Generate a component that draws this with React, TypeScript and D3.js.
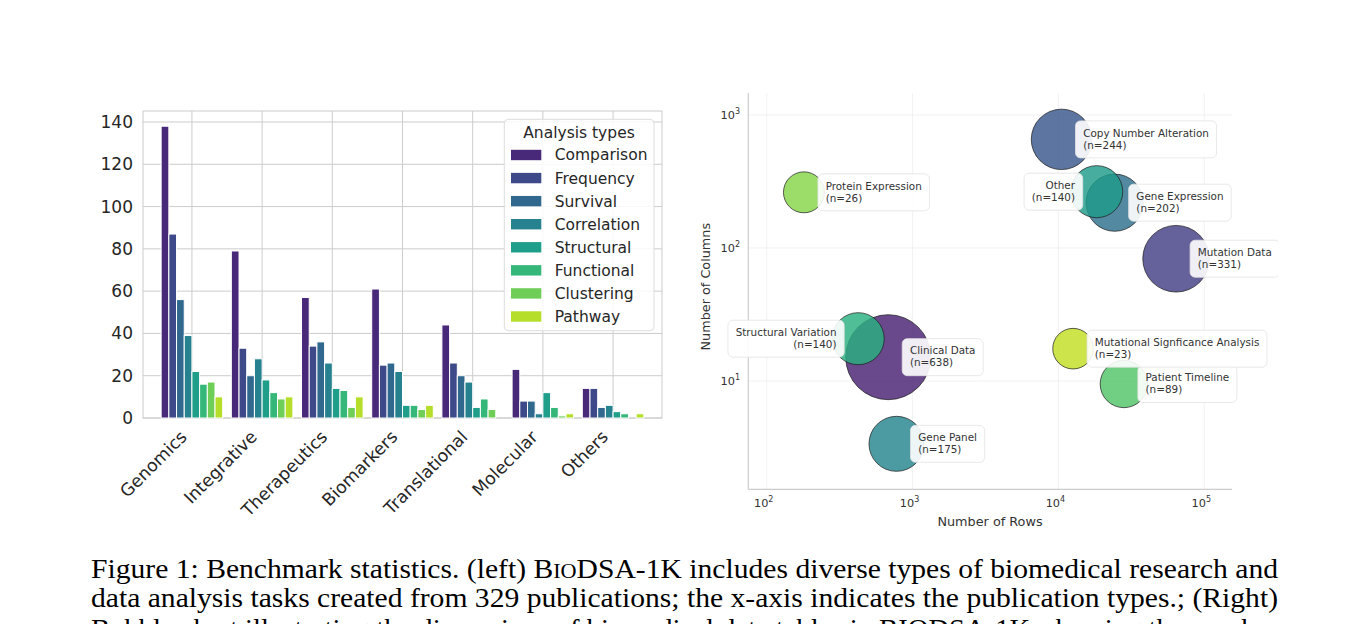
import * as d3 from "d3";

// Left panel: publication types × analysis types
const CATEGORIES = ["Genomics", "Integrative", "Therapeutics", "Biomarkers", "Translational", "Molecular", "Others"];
const ANALYSIS_TYPES = ["Comparison", "Frequency", "Survival", "Correlation", "Structural", "Functional", "Clustering", "Pathway"];
const COMPARISON = [138, 79, 57, 61, 44, 23, 14];
const FREQUENCY = [87, 33, 34, 25, 26, 8, 14];
const SURVIVAL = [56, 20, 36, 26, 20, 8, 5];
const CORRELATION = [39, 28, 26, 22, 17, 2, 6];
const STRUCTURAL = [22, 18, 14, 6, 5, 12, 3];
const FUNCTIONAL = [16, 12, 13, 6, 9, 5, 2];
const CLUSTERING = [17, 9, 5, 4, 4, 1, 0];
const PATHWAY = [10, 10, 10, 6, 0, 2, 2];
const SERIES = [COMPARISON, FREQUENCY, SURVIVAL, CORRELATION, STRUCTURAL, FUNCTIONAL, CLUSTERING, PATHWAY];
const COUNT_TICKS = [0, 20, 40, 60, 80, 100, 120, 140];

// Right panel: data table dimensions
const TABLE_TYPES = [
  "Clinical Data", "Mutation Data", "Copy Number Alteration", "Gene Expression", "Gene Panel",
  "Other", "Structural Variation", "Patient Timeline", "Protein Expression", "Mutational Signficance Analysis",
];
const TABLE_ROWS = [681, 64100, 10500, 24300, 776, 18300, 424, 28100, 180, 12600];
const TABLE_COLS = [15.1, 83, 655, 219, 3.37, 265, 20.8, 9.5, 262, 17.5];
const TABLE_COUNTS = [638, 331, 244, 202, 175, 140, 140, 89, 26, 23];
const ROW_TICKS = [100, 1000, 10000, 100000];
const COL_TICKS = [10, 100, 1000];
const LEFT_LABELS = new Set(["Other", "Structural Variation"]);

const CAPTION_1 = "includes diverse types of biomedical research and";
const CAPTION_2 = "data analysis tasks created from 329 publications; the x-axis indicates the publication types.; (Right)";
const CAPTION_3 = "Bubble chart illustrating the dimensions of biomedical data tables in BIODSA-1K, showing the number";

const FONT = "DejaVu Sans";
const INK = "#262626";

const measureCtx = document.createElement("canvas").getContext("2d");
function textWidth(s: string, size: number) {
  if (!measureCtx) return s.length * size * 0.6;
  measureCtx.font = `${size}px "${FONT}"`;
  return measureCtx.measureText(s).width;
}

function log10(v: number) {
  return Math.round(Math.log10(v));
}

export default function App() {
  const W = 1368;
  const H = 624;

  // ---- bar chart ----
  const L = { left: 143, right: 662, top: 111, bottom: 418 };
  const xCat = d3.scaleBand<string>().domain(CATEGORIES).range([L.left, L.right]).paddingInner(0).paddingOuter(0.197);
  const yCount = d3.scaleLinear().domain([0, 145.2]).range([L.bottom, L.top]);
  const groupW = xCat.step() * 0.877;
  const xType = d3.scaleBand<string>().domain(ANALYSIS_TYPES).range([-groupW / 2, groupW / 2]);
  const barColor = d3.scaleOrdinal<string, string>()
    .domain(ANALYSIS_TYPES)
    .range(ANALYSIS_TYPES.map((_, i) => d3.interpolateViridis((i + 1) / (ANALYSIS_TYPES.length + 1))));
  const catCenter = (c: string) => (xCat(c) ?? 0) + xCat.bandwidth() / 2;

  // ---- bubble chart ----
  const R = { left: 748.3, right: 1232, top: 93, bottom: 489.3 };
  const xRows = d3.scaleLog().domain([74.8, 154900]).range([R.left, R.right]);
  const yCols = d3.scaleLog().domain([1.534, 1462]).range([R.bottom, R.top]);
  const area = d3.scaleLinear().domain([0, 638]).range([360, 1806]);
  const radius = (n: number) => Math.sqrt(area(n));

  const bubbles = TABLE_TYPES.map((name, i) => ({
    name, rows: TABLE_ROWS[i], cols: TABLE_COLS[i], n: TABLE_COUNTS[i],
  }));
  const ranked = bubbles.slice().sort((a, b) => b.n - a.n);
  const bubbleColor = (name: string) =>
    d3.interpolateViridis((ranked.findIndex((b) => b.name === name) + 1) / (ranked.length + 1));

  const LABEL_SIZE = 10.4;

  return (
    <svg width={W} height={H} style={{ position: "absolute", left: 0, top: 0, background: "#fff" }} fontFamily={FONT}>
      <defs>
        <clipPath id="figClip">
          <rect x={0} y={0} width={1278} height={H} />
        </clipPath>
      </defs>

      {/* ---------- left: grouped bars ---------- */}
      <g>
        {COUNT_TICKS.map((t) => (
          <line key={`hg${t}`} x1={L.left} x2={L.right} y1={yCount(t)} y2={yCount(t)} stroke="#cccccc" strokeWidth={1} />
        ))}
        {CATEGORIES.map((c) => (
          <line key={`vg${c}`} x1={catCenter(c)} x2={catCenter(c)} y1={L.top} y2={L.bottom} stroke="#cccccc" strokeWidth={1} />
        ))}
        <rect x={L.left} y={L.top} width={L.right - L.left} height={L.bottom - L.top} fill="none" stroke="#cccccc" strokeWidth={1} />

        {ANALYSIS_TYPES.map((t, si) => (
          <g key={t}>
            {CATEGORIES.map((c, ci) => {
              const v = SERIES[si][ci];
              if (!v) return null;
              return (
                <rect key={c}
                  x={catCenter(c) + (xType(t) ?? 0)} y={yCount(v)}
                  width={xType.bandwidth()} height={yCount(0) - yCount(v)}
                  fill={barColor(t)} stroke="#fff" strokeWidth={1}
                />
              );
            })}
          </g>
        ))}

        {COUNT_TICKS.map((t) => (
          <text key={`yl${t}`} x={133} y={yCount(t)} dy="0.35em" textAnchor="end" fontSize={17} fill={INK}>{t}</text>
        ))}
        {CATEGORIES.map((c) => (
          <text key={`xl${c}`} transform={`translate(${catCenter(c) - 4},${L.bottom + 20}) rotate(-45)`}
            textAnchor="end" fontSize={17.3} fill={INK}>{c}</text>
        ))}

        {/* legend */}
        <g>
          <rect x={504.3} y={119.3} width={149.7} height={211.4} rx={4} fill="#fff" fillOpacity={0.85} stroke="#dddddd" strokeWidth={1} />
          <text x={579} y={138.3} textAnchor="middle" fontSize={15.5} fill={INK}>Analysis types</text>
          {ANALYSIS_TYPES.map((t, i) => (
            <g key={t} transform={`translate(0,${155 + i * 23.07})`}>
              <rect x={511} y={-5.2} width={30.3} height={10.4} fill={barColor(t)} />
              <text x={554.7} y={0} dy="0.35em" fontSize={15.5} fill={INK}>{t}</text>
            </g>
          ))}
        </g>
      </g>

      {/* ---------- right: bubbles ---------- */}
      <g>
        {ROW_TICKS.map((t) => (
          <line key={`rg${t}`} x1={xRows(t)} x2={xRows(t)} y1={R.top} y2={R.bottom} stroke="#efefef" strokeWidth={0.8} />
        ))}
        {COL_TICKS.map((t) => (
          <line key={`cg${t}`} x1={R.left} x2={R.right} y1={yCols(t)} y2={yCols(t)} stroke="#efefef" strokeWidth={0.8} />
        ))}
        <line x1={R.left} x2={R.left} y1={R.top} y2={R.bottom} stroke="#cccccc" strokeWidth={1.2} />
        <line x1={R.left} x2={R.right} y1={R.bottom} y2={R.bottom} stroke="#cccccc" strokeWidth={1.2} />

        {ROW_TICKS.map((t) => (
          <text key={`rt${t}`} x={xRows(t) - 3} y={506.5} textAnchor="middle" fontSize={11.3} fill="#333">
            10<tspan dy={-5} fontSize={8}>{log10(t)}</tspan>
          </text>
        ))}
        {COL_TICKS.map((t) => (
          <text key={`ct${t}`} x={740} y={yCols(t) + 4} textAnchor="end" fontSize={11.3} fill="#333">
            10<tspan dy={-5} fontSize={8}>{log10(t)}</tspan>
          </text>
        ))}
        <text x={990} y={525.5} textAnchor="middle" fontSize={12.8} fill="#333">Number of Rows</text>
        <text transform={`translate(710,286.7) rotate(-90)`} textAnchor="middle" fontSize={12.8} fill="#333">Number of Columns</text>

        {ranked.map((b) => (
          <circle key={b.name} cx={xRows(b.rows)} cy={yCols(b.cols)} r={radius(b.n)}
            fill={bubbleColor(b.name)} fillOpacity={0.82} stroke="#1a1a1a" strokeWidth={0.7} />
        ))}

        <g clipPath="url(#figClip)">
          {bubbles.map((b) => {
            const cx = xRows(b.rows);
            const cy = yCols(b.cols);
            const line2 = `(n=${b.n})`;
            const tw = Math.max(textWidth(b.name, LABEL_SIZE), textWidth(line2, LABEL_SIZE));
            const left = LEFT_LABELS.has(b.name);
            const tx = left ? cx - 21.7 : cx + 21.7;
            const bx = left ? tx - tw - 7.7 : tx - 7.7;
            return (
              <g key={b.name}>
                <rect x={bx} y={cy - 18.5} width={tw + 15.4} height={37} rx={5}
                  fill="#fff" fillOpacity={0.9} stroke="#e2e2e2" strokeWidth={0.8} />
                <text x={tx} y={cy - 2.7} textAnchor={left ? "end" : "start"} fontSize={LABEL_SIZE} fill="#333">{b.name}</text>
                <text x={tx} y={cy + 9.3} textAnchor={left ? "end" : "start"} fontSize={LABEL_SIZE} fill="#333">{line2}</text>
              </g>
            );
          })}
        </g>
      </g>

      {/* ---------- caption ---------- */}
      <g fontFamily="Liberation Serif" fontSize={28} fill="#000">
        <text x={91} y={577.5} textLength={1187} lengthAdjust="spacingAndGlyphs">
          Figure 1: Benchmark statistics. (left) B<tspan fontSize={21}>IO</tspan>DSA-1K {CAPTION_1}
        </text>
        <text x={91} y={606.5} textLength={1187} lengthAdjust="spacingAndGlyphs">{CAPTION_2}</text>
        <text x={91} y={638} textLength={1187} lengthAdjust="spacingAndGlyphs">{CAPTION_3}</text>
      </g>
    </svg>
  );
}
